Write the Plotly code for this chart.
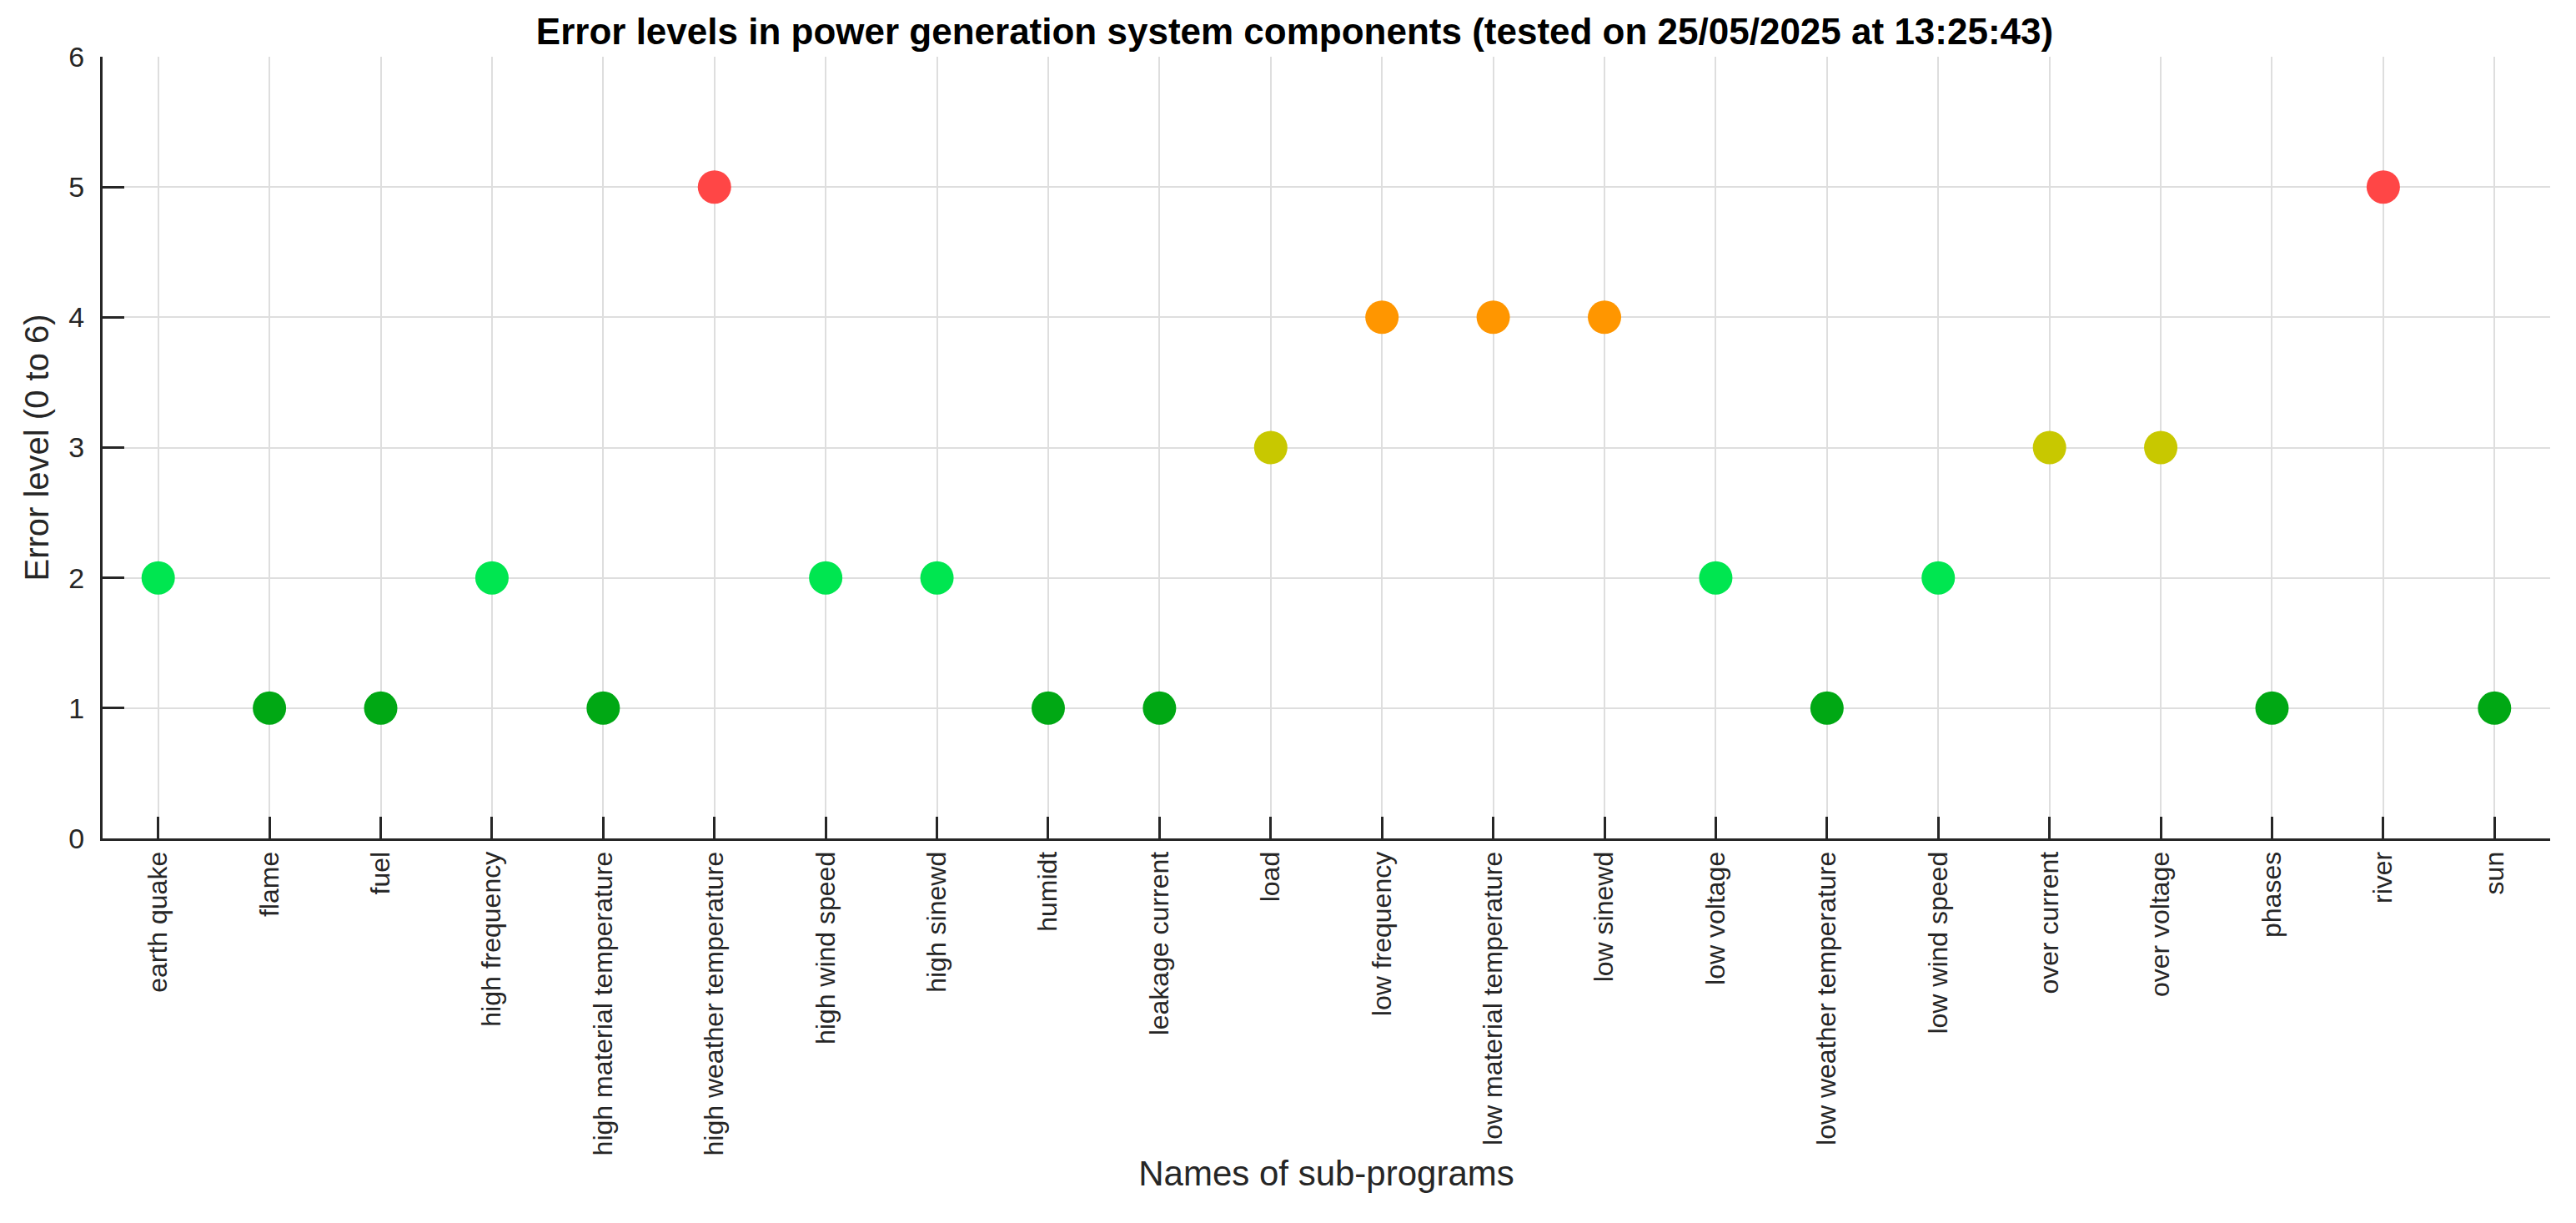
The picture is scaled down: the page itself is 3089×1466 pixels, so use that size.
import plotly.graph_objects as go

# sub-program names and the error level each one reported
sub_programs = ['earth quake', 'flame', 'fuel', 'high frequency', 'high material temperature',
                'high weather temperature', 'high wind speed', 'high sinewd', 'humidt',
                'leakage current', 'load', 'low frequency', 'low material temperature',
                'low sinewd', 'low voltage', 'low weather temperature', 'low wind speed',
                'over current', 'over voltage', 'phases', 'river', 'sun']
error_levels = [2, 1, 1, 2, 1, 5, 2, 2, 1, 1, 3, 4, 4, 4, 2, 1, 2, 3, 3, 1, 5, 1]
y_ticks = [0, 1, 2, 3, 4, 5, 6]

title = 'Error levels in power generation system components (tested on 25/05/2025 at 13:25:43)'

# colour for each level
level_colors = {1: '#00A814', 2: '#00E650', 3: '#C8C800', 4: '#FF9600', 5: '#FF4646'}
marker_colors = [level_colors[lv] for lv in error_levels]

fig = go.Figure()
fig.add_trace(go.Scatter(
    x=sub_programs, y=error_levels, mode='markers',
    marker=dict(size=40, color=marker_colors, line=dict(width=0)),
    showlegend=False,
))

font = 'Liberation Sans, Arial, Helvetica, sans-serif'
fig.update_layout(
    width=3089, height=1466,
    paper_bgcolor='white', plot_bgcolor='white',
    margin=dict(l=115, r=39, t=60, b=469),
    font=dict(family=font, color='#262626'),
    title=dict(text='<b>' + title + '</b>', x=0.5, xanchor='center',
               y=1 - 30 / 1466, yanchor='middle',
               font=dict(size=44, color='black')),
)
fig.update_xaxes(
    type='category', range=[-0.5, 21.5],
    showline=True, linecolor='#262626', linewidth=3, mirror=False,
    showgrid=True, gridcolor='#DEDEDE', gridwidth=2,
    ticks='inside', ticklen=26, tickwidth=3, tickcolor='#262626',
    tickangle=-90, tickfont=dict(size=32, color='#262626'),
    title=dict(text='Names of sub-programs', font=dict(size=42, color='#262626'), standoff=8),
)
fig.update_yaxes(
    range=[0, 6], tickvals=y_ticks, zeroline=False,
    showline=True, linecolor='#262626', linewidth=3, mirror=False,
    showgrid=True, gridcolor='#DEDEDE', gridwidth=2,
    ticks='inside', ticklen=26, tickwidth=3, tickcolor='#262626',
    tickfont=dict(size=34, color='#262626'), ticklabelstandoff=12,
    title=dict(text='Error level (0 to 6)', font=dict(size=40, color='#262626'), standoff=12),
)

fig.write_html("out.html")
